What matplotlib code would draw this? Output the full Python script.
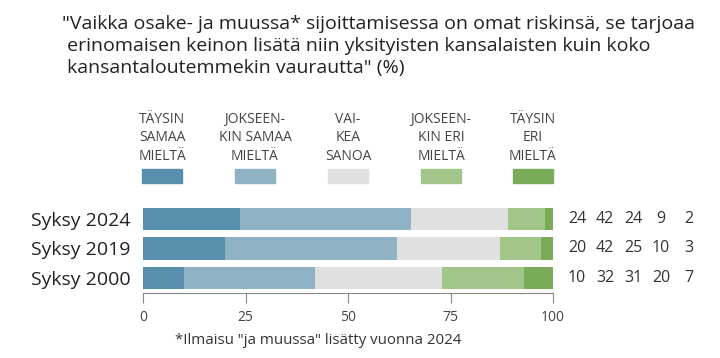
import matplotlib.pyplot as plt
from matplotlib.patches import Rectangle

plt.rcParams['font.family'] = ['Open Sans', 'DejaVu Sans']

otsikko = ('"Vaikka osake- ja muussa* sijoittamisessa on omat riskinsä, se tarjoaa\n'
           ' erinomaisen keinon lisätä niin yksityisten kansalaisten kuin koko\n'
           ' kansantaloutemmekin vaurautta" (%)')
vuodet = ["Syksy 2024", "Syksy 2019", "Syksy 2000"]
luokat = ["TÄYSIN\nSAMAA\nMIELTÄ", "JOKSEEN-\nKIN SAMAA\nMIELTÄ", "VAI-\nKEA\nSANOA",
          "JOKSEEN-\nKIN ERI\nMIELTÄ", "TÄYSIN\nERI\nMIELTÄ"]
arvot = [
    [24, 42, 24, 9, 2],
    [20, 42, 25, 10, 3],
    [10, 32, 31, 20, 7],
]
varit = ["#588fae", "#8fb3c5", "#e0e0e0", "#a2c589", "#79ab58"]
alaviite = '*Ilmaisu "ja muussa" lisätty vuonna 2024'

W, H = 720, 358
fig = plt.figure(figsize=(W / 100, H / 100), dpi=100)

fig.text(62 / W, 1 - 15 / H, otsikko, fontsize=14, va="top", ha="left",
         color="#222222", linespacing=1.3)

ax = fig.add_axes([143 / W, (H - 293) / H, 410 / W, 88.75 / H])
ypos = [2, 1, 0]
for y, rivi in zip(ypos, arvot):
    summa = sum(rivi)
    vasen = 0
    for v, c in zip(rivi, varit):
        osuus = v / summa * 100
        ax.barh(y, osuus, left=vasen, height=0.76, color=c, edgecolor="none")
        vasen += osuus
    for i, v in enumerate(rivi):
        ax.text(105.85 + i * 6.83, y, str(v), ha="center", va="center",
                fontsize=11.5, color="#333333", clip_on=False)

ax.set_xlim(0, 100)
ax.set_ylim(-0.51, 2.5)
ax.set_yticks(ypos)
ax.set_yticklabels(vuodet, fontsize=14, color="#222222")
ax.tick_params(axis="y", length=0, pad=9)
ax.set_xticks([0, 25, 50, 75, 100])
ax.tick_params(axis="x", length=7, color="#888888", labelsize=10,
               labelcolor="#444444", pad=5)
for s in ["top", "right", "left"]:
    ax.spines[s].set_visible(False)
ax.spines["bottom"].set_color("#888888")

# selite
keskit = [162, 255, 348, 441, 533]
for x, teksti, c in zip(keskit, luokat, varit):
    fig.text(x / W, 1 - 112 / H, teksti, ha="center", va="top", fontsize=10,
             color="#444444", linespacing=1.3)
    fig.patches.append(Rectangle(((x - 20) / W, 1 - 183 / H), 40 / W, 14 / H,
                                 transform=fig.transFigure, color=c))

fig.text(318 / W, 1 - 340 / H, alaviite, ha="center", va="center",
         fontsize=10.8, color="#333333")

fig.savefig("out.png", dpi=100)
